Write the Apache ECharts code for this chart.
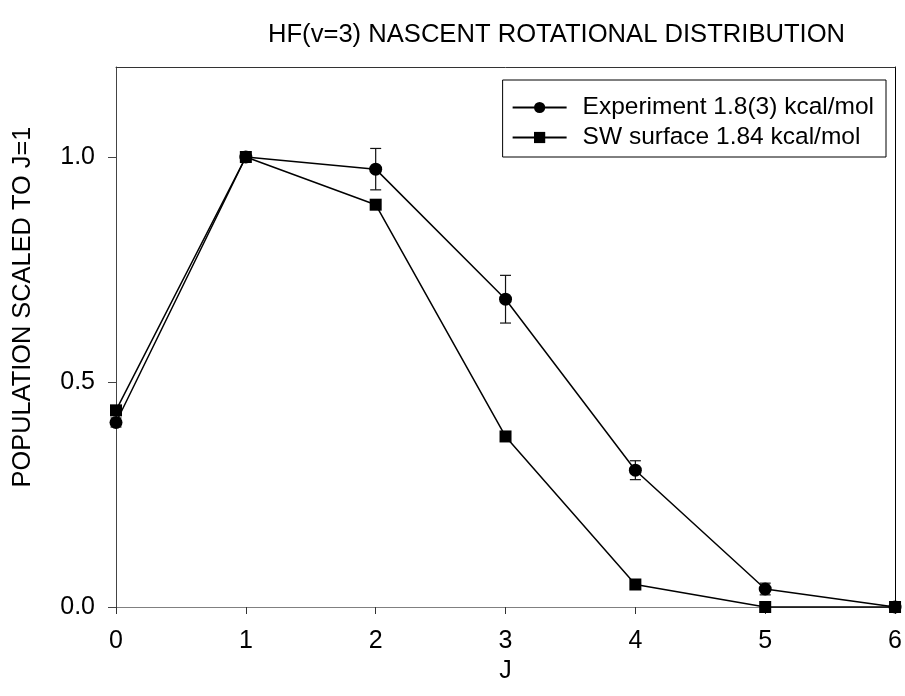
<!DOCTYPE html>
<html>
<head>
<meta charset="utf-8">
<script src="https://cdn.jsdelivr.net/npm/echarts@6/dist/echarts.min.js"></script>
<style>html,body{margin:0;padding:0;background:#fff}#c{width:905px;height:696px}</style>
</head>
<body>
<div id="c"></div>
<script>
const J = [0, 1, 2, 3, 4, 5, 6];
const experiment = [0.41, 1.0, 0.973, 0.684, 0.304, 0.040, 0.0];
const experimentErr = [0.01, 0, 0.046, 0.053, 0.021, 0.013, 0];
const swSurface = [0.437, 1.0, 0.894, 0.379, 0.050, 0.0, 0.0];
const yTicks = [0, 0.5, 1.0];
const xTicks = [0, 1, 2, 3, 4, 5, 6];
const titleText = 'HF(v=3) NASCENT ROTATIONAL DISTRIBUTION';
const xName = 'J';
const yName = 'POPULATION SCALED TO J=1';
const seriesNames = ['Experiment 1.8(3) kcal/mol', 'SW surface 1.84 kcal/mol'];

const FONT = '"Liberation Sans", Arial, sans-serif';
const chart = echarts.init(document.getElementById('c'), null, {renderer: 'canvas'});

const errData = J.map((j, i) => [j, experiment[i] - experimentErr[i], experiment[i] + experimentErr[i]]);

chart.setOption({
  animation: false,
  backgroundColor: '#fff',
  graphic: [
    {type: 'text', left: 268, top: 22, style: {text: titleText, font: '25.6px ' + FONT, fill: '#000'}},
    {type: 'text', x: 23, y: 307, rotation: Math.PI / 2,
     style: {text: yName, font: '25.4px ' + FONT, fill: '#000', align: 'center', verticalAlign: 'middle'}}
  ],
  grid: {left: 116, right: 6, top: 67, bottom: 89, containLabel: false},
  legend: {
    right: 19, top: 80, orient: 'vertical',
    data: seriesNames,
    borderColor: '#000', borderWidth: 1, borderRadius: 0,
    padding: [15, 12, 7, 9],
    itemWidth: 54, itemHeight: 14, itemGap: 5,
    textStyle: {fontFamily: FONT, fontSize: 24.5, color: '#000', lineHeight: 25, padding: [0, 0, 0, 11]},
    inactiveColor: '#000'
  },
  xAxis: [
    {type: 'value', min: 0, max: 6, interval: 1, position: 'bottom',
     name: xName, nameLocation: 'middle', nameGap: 52,
     nameTextStyle: {fontFamily: FONT, fontSize: 25, color: '#000'},
     axisLine: {show: true, lineStyle: {color: '#808080', width: 1}},
     axisTick: {show: true, inside: false, length: 7, lineStyle: {color: '#333'}},
     axisLabel: {fontFamily: FONT, fontSize: 25, color: '#000', margin: 22, customValues: xTicks},
     splitLine: {show: false}},
    {type: 'value', min: 0, max: 6, position: 'top',
     axisLine: {show: true, onZero: false, lineStyle: {color: '#333', width: 1}},
     axisTick: {show: false}, axisLabel: {show: false}, splitLine: {show: false}}
  ],
  yAxis: [
    {type: 'value', min: 0, max: 1.2, interval: 0.5, position: 'left',
     axisLine: {show: true, onZero: false, lineStyle: {color: '#444', width: 1}},
     axisTick: {show: true, inside: false, length: 8, customValues: yTicks, lineStyle: {color: '#444'}},
     axisLabel: {fontFamily: FONT, fontSize: 25, color: '#000', margin: 21, customValues: yTicks,
                 formatter: v => v.toFixed(1)},
     splitLine: {show: false}},
    {type: 'value', min: 0, max: 1.2, position: 'right',
     axisLine: {show: true, onZero: false, lineStyle: {color: '#000', width: 1}},
     axisTick: {show: false}, axisLabel: {show: false}, splitLine: {show: false}}
  ],
  series: [
    {
      name: 'errors', type: 'custom', clip: false, z: 3,
      data: errData,
      renderItem: function (params, api) {
        const x = api.value(0), lo = api.value(1), hi = api.value(2);
        if (hi - lo <= 0) return null;
        const pHi = api.coord([x, hi]);
        const pLo = api.coord([x, lo]);
        const w = 5.5;
        const st = {stroke: '#111', lineWidth: 1.2};
        return {type: 'group', children: [
          {type: 'line', shape: {x1: pHi[0], y1: pHi[1], x2: pLo[0], y2: pLo[1]}, style: st},
          {type: 'line', shape: {x1: pHi[0] - w, y1: pHi[1], x2: pHi[0] + w, y2: pHi[1]}, style: st},
          {type: 'line', shape: {x1: pLo[0] - w, y1: pLo[1], x2: pLo[0] + w, y2: pLo[1]}, style: st}
        ]};
      }
    },
    {
      name: seriesNames[1], type: 'line', clip: false, z: 4,
      data: J.map((j, i) => [j, swSurface[i]]),
      symbol: 'rect', symbolSize: 12, showAllSymbol: true,
      lineStyle: {color: '#000', width: 1.5},
      itemStyle: {color: '#000', borderWidth: 0}
    },
    {
      name: seriesNames[0], type: 'line', clip: false, z: 5,
      data: J.map((j, i) => [j, experiment[i]]),
      symbol: 'circle', symbolSize: 13, showAllSymbol: true,
      lineStyle: {color: '#000', width: 1.5},
      itemStyle: {color: '#000', borderWidth: 0}
    }
  ]
});
</script>
</body>
</html>
